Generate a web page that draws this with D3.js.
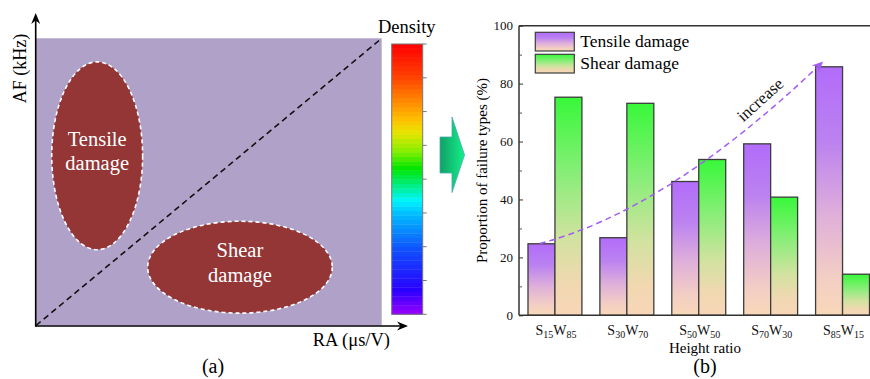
<!DOCTYPE html>
<html><head><meta charset="utf-8">
<script src="https://cdn.jsdelivr.net/npm/d3@7"></script>
<style>
body{margin:0;background:#fff}
svg, svg text{font-family:"Liberation Serif","Times New Roman","DejaVu Serif",serif}
</style>
</head><body>
<svg id="c" width="870" height="379" font-family="Liberation Serif, Times New Roman, serif"></svg>
<script>
// ---- panel (b) data: share of failure type per height ratio ----
const sSub = ["15", "30", "50", "70", "85"];
const wSub = ["85", "70", "50", "30", "15"];
const categories = sSub.map((s, i) => `S${s}W${wSub[i]}`);
const tensile = [24.7, 26.8, 46.2, 59.2, 85.8];
const shear = [75.3, 73.2, 53.8, 40.8, 14.2];
const yTicks = [0, 20, 40, 60, 80, 100];
const yMinorTicks = [10, 30, 50, 70, 90];
const seriesNames = ["Tensile damage", "Shear damage"];
// trend arrow, in (category position, %) units
const trendStart = [-0.21, 24.8], trendCtrl = [1.55, 36.2], trendEnd = [3.73, 87.6];
const trendLabel = { text: "increase", pos: [2.85, 74.5], angle: -42 };

// ---- panel (a): conceptual RA–AF classification map, normalised units ----
const diagonal = [[0, 0], [1, 1]];
const regions = [
  { lines: ["Tensile", "damage"], cx: 0.177, cy: 0.591, rx: 0.1315, ry: 0.327 },
  { lines: ["Shear", "damage"], cx: 0.59, cy: 0.203, rx: 0.267, ry: 0.160 }
];
const densityLevels = d3.range(60);
const densityTicks = d3.range(9);

const svg = d3.select("#c");
const defs = svg.append("defs");

// ================= panel (a) =================
const xA = d3.scaleLinear().domain([0, 1]).range([36, 381.7]);
const yA = d3.scaleLinear().domain([0, 1]).range([325.5, 38.3]);

svg.append("rect")
  .attr("x", xA(0)).attr("y", yA(1))
  .attr("width", xA(1) - xA(0)).attr("height", yA(0) - yA(1))
  .attr("fill", "#b0a1c8");

svg.append("path")
  .attr("d", d3.line().x(d => xA(d[0])).y(d => yA(d[1]))(diagonal))
  .attr("fill", "none").attr("stroke", "#111").attr("stroke-width", 1.6)
  .attr("stroke-dasharray", "6,4");

const reg = svg.append("g").selectAll("g").data(regions).join("g");
reg.append("ellipse")
  .attr("cx", d => xA(d.cx)).attr("cy", d => yA(d.cy))
  .attr("rx", d => xA(d.rx) - xA(0)).attr("ry", d => yA(0) - yA(d.ry))
  .attr("fill", "#943536").attr("stroke", "#fff").attr("stroke-width", 1.6)
  .attr("stroke-dasharray", "4,3");
reg.append("text")
  .attr("text-anchor", "middle").attr("fill", "#fff").attr("font-size", 20.5)
  .selectAll("tspan").data(d => d.lines.map((t, i) => ({ t, i, d }))).join("tspan")
  .attr("x", o => xA(o.d.cx))
  .attr("y", o => yA(o.d.cy) + (o.i === 0 ? -10 : 14.5))
  .text(o => o.t);

// axes with arrowheads
const axA = svg.append("g").attr("stroke", "#000").attr("fill", "#000");
axA.append("line").attr("x1", 35.7).attr("y1", 326).attr("x2", 405).attr("y2", 326).attr("stroke-width", 1.6);
axA.append("line").attr("x1", 35.7).attr("y1", 326.8).attr("x2", 35.7).attr("y2", 17).attr("stroke-width", 1.6);
axA.append("path").attr("stroke", "none").attr("d", "M408,326 L397,321.5 L400.5,326 L397,330.5 Z");
axA.append("path").attr("stroke", "none").attr("d", "M35.7,13 L31.2,24 L35.7,20.5 L40.2,24 Z");

svg.append("text").attr("transform", "translate(26,68.5) rotate(-90)")
  .attr("text-anchor", "middle").attr("font-size", 18).text("AF (kHz)");
svg.append("text").attr("x", 390).attr("y", 345.5)
  .attr("text-anchor", "end").attr("font-size", 18.5).text("RA (μs/V)");
svg.append("text").attr("x", 378).attr("y", 33)
  .attr("font-size", 18.5).text("Density");
svg.append("text").attr("x", 213).attr("y", 373)
  .attr("text-anchor", "middle").attr("font-size", 20).text("(a)");

// density colour bar
const cbTop = 44, cbBot = 314.3, cbX = 391.7, cbW = 31;
const rainbow = d3.scaleLinear()
  .domain([0, 0.09, 0.24, 0.38, 0.42, 0.54, 0.6, 0.67, 0.72, 0.8, 0.88, 1])
  .range(["#9a00ff", "#2a00ff", "#1050ff", "#00c4ff", "#00f6ff", "#00e600", "#7fee00", "#e6e600", "#ffc000", "#ff8000", "#ff4000", "#ff0000"]);
const yCb = d3.scaleLinear().domain([0, densityLevels.length]).range([cbBot, cbTop]);
svg.append("g").selectAll("rect").data(densityLevels).join("rect")
  .attr("x", cbX).attr("width", cbW)
  .attr("y", d => yCb(d + 1)).attr("height", d => yCb(d) - yCb(d + 1) + 0.4)
  .attr("fill", d => rainbow((d + 0.5) / densityLevels.length));
svg.append("rect").attr("x", cbX).attr("y", cbTop).attr("width", cbW).attr("height", cbBot - cbTop)
  .attr("fill", "none").attr("stroke", "#777").attr("stroke-width", 1);
const yCbTick = d3.scaleLinear().domain([0, densityTicks.length - 1]).range([cbBot, cbTop]);
svg.append("g").selectAll("line").data(densityTicks).join("line")
  .attr("x1", cbX + cbW).attr("x2", cbX + cbW + 4)
  .attr("y1", d => yCbTick(d)).attr("y2", d => yCbTick(d))
  .attr("stroke", "#777").attr("stroke-width", 1);

// block arrow between panels
const ga = defs.append("linearGradient").attr("id", "gArrow").attr("x1", 0).attr("x2", 1).attr("y1", 0).attr("y2", 0);
ga.append("stop").attr("offset", 0).attr("stop-color", "#12a066");
ga.append("stop").attr("offset", 1).attr("stop-color", "#12f088");
svg.append("path")
  .attr("d", "M440,137 L452,137 L452,117 L464.5,155 L452,192.5 L452,173 L440,173 Z")
  .attr("fill", "url(#gArrow)").attr("stroke", "#4aa8b4").attr("stroke-width", 0.8);

// ================= panel (b) =================
const x0 = 519, yTop = 25.67, yBot = 315.33;
const x = d3.scaleBand().domain(categories).range([x0, 878.5]).paddingInner(0.25).paddingOuter(0.125);
const xs = d3.scaleBand().domain(["t", "s"]).range([0, x.bandwidth()]);
const y = d3.scaleLinear().domain([0, 100]).range([yBot, yTop]);
const xc = d3.scaleLinear().domain([-0.5, categories.length - 0.5]).range([x0, 878.5]);

function grad(id, stops) {
  const g = defs.append("linearGradient").attr("id", id).attr("x1", 0).attr("x2", 0).attr("y1", 0).attr("y2", 1);
  stops.forEach(([o, c]) => g.append("stop").attr("offset", o).attr("stop-color", c));
}
grad("gT", [[0, "#b26cfa"], [0.3, "#bb82f0"], [0.6, "#dfb0da"], [0.85, "#f3cec4"], [1, "#f8d8b8"]]);
grad("gS", [[0, "#38f83a"], [0.35, "#88ee78"], [0.65, "#d2e2a0"], [0.85, "#f0d8b0"], [1, "#f8d6b8"]]);

const rows = categories.map((c, i) => ({ c, t: tensile[i], s: shear[i] }));
const gb = svg.append("g").selectAll("g").data(rows).join("g")
  .attr("transform", d => `translate(${x(d.c)},0)`);
gb.append("rect").attr("x", xs("t")).attr("width", xs.bandwidth())
  .attr("y", d => y(d.t)).attr("height", d => y(0) - y(d.t))
  .attr("fill", "url(#gT)").attr("stroke", "#3c3c3c").attr("stroke-width", 1.3);
gb.append("rect").attr("x", xs("s")).attr("width", xs.bandwidth())
  .attr("y", d => y(d.s)).attr("height", d => y(0) - y(d.s))
  .attr("fill", "url(#gS)").attr("stroke", "#3c3c3c").attr("stroke-width", 1.3);

// frame: left, bottom, top
const fr = svg.append("g").attr("stroke", "#333").attr("stroke-width", 1.5);
fr.append("line").attr("x1", x0).attr("x2", 880).attr("y1", yBot).attr("y2", yBot);
fr.append("line").attr("x1", x0).attr("x2", 880).attr("y1", yTop).attr("y2", yTop);
fr.append("line").attr("x1", x0).attr("x2", x0).attr("y1", yTop).attr("y2", yBot);

// y ticks, pointing inward
const yAxis = svg.append("g").attr("transform", `translate(${x0},0)`)
  .call(d3.axisRight(y).tickValues(yTicks).tickSize(4).tickFormat(""));
yAxis.select(".domain").remove();
yAxis.selectAll("line").attr("stroke", "#333");
const yMin = svg.append("g").attr("transform", `translate(${x0},0)`)
  .call(d3.axisRight(y).tickValues(yMinorTicks).tickSize(3).tickFormat(""));
yMin.select(".domain").remove();
yMin.selectAll("line").attr("stroke", "#555");
svg.append("g").selectAll("text").data(yTicks).join("text")
  .attr("x", x0 - 6).attr("y", d => y(d) + 4.5)
  .attr("text-anchor", "end").attr("font-size", 13).attr("fill", "#111")
  .text(d => d);

// category labels with subscripts
const xl = svg.append("g").selectAll("text").data(categories).join("text")
  .attr("x", d => x(d) + x.bandwidth() / 2 + 1).attr("y", 335)
  .attr("text-anchor", "middle").attr("font-size", 14).attr("fill", "#111");
xl.each(function (d, i) {
  const t = d3.select(this);
  t.append("tspan").text("S");
  t.append("tspan").attr("font-size", 10).attr("dy", 3).text(sSub[i]);
  t.append("tspan").attr("dy", -3).text("W");
  t.append("tspan").attr("font-size", 10).attr("dy", 3).text(wSub[i]);
});

svg.append("text").attr("x", 705).attr("y", 353)
  .attr("text-anchor", "middle").attr("font-size", 15).text("Height ratio");
svg.append("text").attr("x", 705).attr("y", 373)
  .attr("text-anchor", "middle").attr("font-size", 20).text("(b)");
svg.append("text").attr("transform", `translate(487,170.5) rotate(-90)`)
  .attr("text-anchor", "middle").attr("font-size", 15).text("Proportion of failure types (%)");

// legend
const lg = svg.append("g").selectAll("g").data(seriesNames).join("g")
  .attr("transform", (d, i) => `translate(535.3,${32.3 + i * 22})`);
lg.append("rect").attr("width", 39).attr("height", 18.7)
  .attr("fill", (d, i) => i === 0 ? "url(#gT)" : "url(#gS)")
  .attr("stroke", "#3c3c3c").attr("stroke-width", 1.2);
lg.append("text").attr("x", 45).attr("y", 14.5).attr("font-size", 17.5).text(d => d);

// trend curve with arrowhead
const P0 = [xc(trendStart[0]), y(trendStart[1])];
const C = [xc(trendCtrl[0]), y(trendCtrl[1])];
const P2 = [xc(trendEnd[0]), y(trendEnd[1])];
const ang = Math.atan2(P2[1] - C[1], P2[0] - C[0]);
const trendColor = "#a35cf6";
const p = d3.path();
p.moveTo(P0[0], P0[1]);
p.quadraticCurveTo(C[0], C[1], P2[0] - 6 * Math.cos(ang), P2[1] - 6 * Math.sin(ang));
svg.append("path").attr("d", p.toString()).attr("fill", "none")
  .attr("stroke", trendColor).attr("stroke-width", 1.5).attr("stroke-dasharray", "6,4");
svg.append("path")
  .attr("d", "M0,0 L-11,-5 L-7,0 L-11,5 Z")
  .attr("transform", `translate(${P2[0]},${P2[1]}) rotate(${ang * 180 / Math.PI})`)
  .attr("fill", trendColor);
svg.append("text")
  .attr("transform", `translate(${xc(trendLabel.pos[0])},${y(trendLabel.pos[1])}) rotate(${trendLabel.angle})`)
  .attr("text-anchor", "middle").attr("dy", "0.35em").attr("font-size", 17).attr("fill", "#111")
  .text(trendLabel.text);
</script>
</body></html>
